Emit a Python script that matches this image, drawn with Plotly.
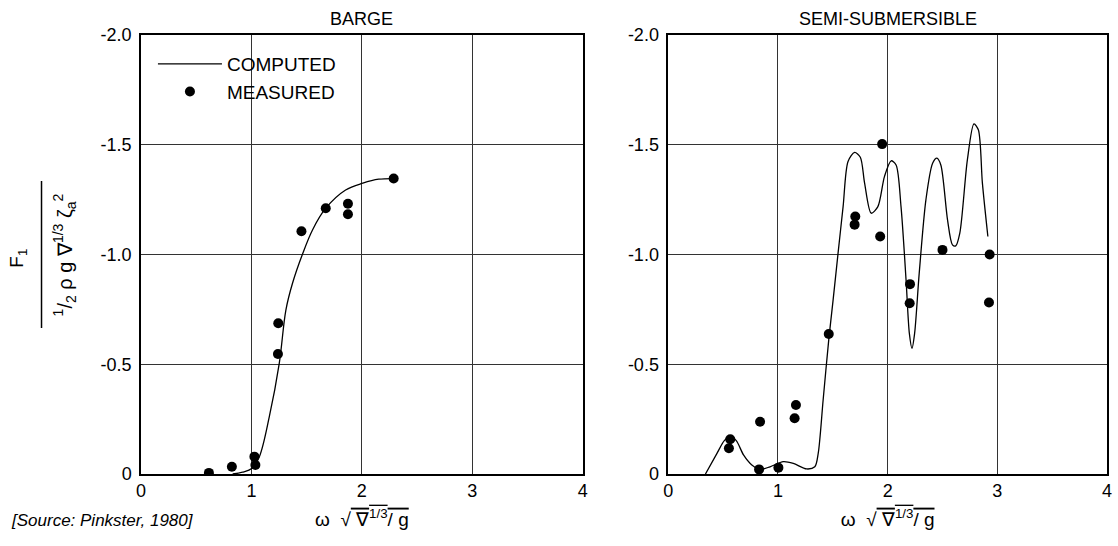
import plotly.graph_objects as go

# ---------------- data ----------------
barge_meas_x = [0.615, 0.823, 1.027, 1.036, 1.243, 1.240, 1.453, 1.673, 1.874, 1.874, 2.288]
barge_meas_y = [-0.005, -0.033, -0.079, -0.041, -0.687, -0.547, -1.106, -1.211, -1.231, -1.183, -1.346]

barge_comp_x = [0.83, 0.92, 1.006, 1.072, 1.162, 1.252, 1.312, 1.372, 1.462, 1.553, 1.673, 1.853, 2.009, 2.153, 2.288]
barge_comp_y = [0.0, -0.008, -0.026, -0.079, -0.261, -0.504, -0.747, -0.869, -1.001, -1.112, -1.211, -1.294, -1.325, -1.343, -1.346]

semi_meas_x = [0.565, 0.553, 0.837, 0.828, 1.004, 1.164, 1.152, 1.463, 1.705, 1.699, 1.950, 1.932, 2.204, 2.201, 2.500, 2.930, 2.924]
semi_meas_y = [-0.158, -0.117, -0.238, -0.021, -0.029, -0.314, -0.254, -0.638, -1.173, -1.136, -1.503, -1.082, -0.865, -0.778, -1.021, -1.000, -0.781]

semi_comp_x = [0.339, 0.444, 0.511, 0.565, 0.620, 0.686, 0.762, 0.837, 0.928, 1.049, 1.140, 1.261, 1.336, 1.367,
               1.412, 1.463, 1.503, 1.548, 1.594, 1.639, 1.699, 1.751, 1.790, 1.850, 1.911, 1.971, 2.032, 2.077,
               2.122, 2.168, 2.198, 2.222, 2.246, 2.288, 2.349, 2.410, 2.449, 2.485, 2.546, 2.591, 2.621, 2.658,
               2.727, 2.787, 2.827, 2.864, 2.914]
semi_comp_y = [0.0, -0.094, -0.152, -0.170, -0.152, -0.087, -0.041, -0.021, -0.033, -0.056, -0.048, -0.023, -0.033, -0.094,
               -0.337, -0.611, -0.793, -1.006, -1.218, -1.424, -1.465, -1.443, -1.325, -1.188, -1.218, -1.355, -1.427, -1.408,
               -1.218, -0.884, -0.641, -0.573, -0.641, -0.915, -1.249, -1.416, -1.439, -1.408, -1.158, -1.044, -1.039, -1.097,
               -1.431, -1.595, -1.568, -1.325, -1.082]

x_ticks = [0, 1, 2, 3, 4]
x_tick_text = ["0", "1", "2", "3", "4"]
y_ticks = [-2.0, -1.5, -1.0, -0.5, 0]
y_tick_text = ["-2.0", "-1.5", "-1.0", "-0.5", "0"]

panel_titles = ["BARGE", "SEMI-SUBMERSIBLE"]

# ---------------- figure ----------------
FONT = "Liberation Sans, Arial, sans-serif"
W, H = 1118, 546
ML, MR, MT, MB = 141, 6, 35, 72
PW = W - ML - MR
PH = H - MT - MB

def px_x(p):
    return (p - ML) / PW

def px_y(p):
    return (H - MB - p) / PH

fig = go.Figure()

fig.add_trace(go.Scatter(x=barge_comp_x, y=barge_comp_y, mode="lines", name="COMPUTED",
                         line=dict(color="black", width=1.3, shape="spline", smoothing=1.0),
                         xaxis="x", yaxis="y"))
fig.add_trace(go.Scatter(x=barge_meas_x, y=barge_meas_y, mode="markers", name="MEASURED",
                         marker=dict(color="black", size=10),
                         xaxis="x", yaxis="y"))
fig.add_trace(go.Scatter(x=semi_comp_x, y=semi_comp_y, mode="lines", showlegend=False,
                         line=dict(color="black", width=1.3, shape="spline", smoothing=0.8),
                         xaxis="x2", yaxis="y2"))
fig.add_trace(go.Scatter(x=semi_meas_x, y=semi_meas_y, mode="markers", showlegend=False,
                         marker=dict(color="black", size=10),
                         xaxis="x2", yaxis="y2"))

xtitle = "ω  √<span style=\"text-decoration:overline\"> ∇<sup>1/3</sup>/ g</span>"

common_x = dict(range=[0, 4], tickvals=x_ticks, ticktext=x_tick_text, showgrid=True,
                gridcolor="#333333", gridwidth=1, showline=True, linecolor="black", linewidth=1.5,
                mirror=True, ticks="", zeroline=False,
                tickfont=dict(family=FONT, size=18, color="black"))
common_y = dict(range=[0, -2.0], tickvals=y_ticks, ticktext=y_tick_text, showgrid=True,
                gridcolor="#333333", gridwidth=1, showline=True, linecolor="black", linewidth=1.5,
                mirror=True, ticks="", zeroline=False, ticklabelstandoff=4,
                tickfont=dict(family=FONT, size=18, color="black"))

d1 = [0, px_x(585)]
d2 = [px_x(671), 1.0]

fig.update_layout(
    width=W, height=H, autosize=False,
    margin=dict(l=ML, r=MR, t=MT, b=MB),
    paper_bgcolor="white", plot_bgcolor="white",
    font=dict(family=FONT, color="black"),
    xaxis=dict(domain=d1, anchor="y",
               title=dict(text=xtitle, font=dict(family=FONT, size=19), standoff=12), **common_x),
    yaxis=dict(domain=[0, 1], anchor="x", **common_y),
    xaxis2=dict(domain=d2, anchor="y2",
                title=dict(text=xtitle, font=dict(family=FONT, size=19), standoff=12), **common_x),
    yaxis2=dict(domain=[0, 1], anchor="x2", **common_y),
    legend=dict(x=px_x(153), y=px_y(45), xanchor="left", yanchor="top",
                bgcolor="rgba(255,255,255,0)", font=dict(family=FONT, size=19, color="black"),
                itemwidth=64, tracegroupgap=0),
    showlegend=True,
)

# panel titles
for i, t in enumerate(panel_titles):
    d = d1 if i == 0 else d2
    fig.add_annotation(text=t, x=(d[0] + d[1]) / 2, y=px_y(19), xref="paper", yref="paper",
                       showarrow=False, xanchor="center", yanchor="middle",
                       font=dict(family=FONT, size=18, color="black"))

# y-axis title as a fraction
fig.add_annotation(text="F<sub>1</sub>", x=px_x(17), y=px_y(258), xref="paper", yref="paper",
                   showarrow=False, textangle=-90, xanchor="center", yanchor="middle",
                   font=dict(family=FONT, size=19, color="black"))
fig.add_shape(type="line", xref="paper", yref="paper", x0=px_x(41), x1=px_x(41),
              y0=px_y(181), y1=px_y(328), line=dict(color="black", width=1.5))
fig.add_annotation(text="<sup>1</sup>/<sub>2</sub> ρ g ∇<sup>1/3</sup> ζ<sub>a</sub><sup>2</sup>",
                   x=px_x(65), y=px_y(255), xref="paper", yref="paper",
                   showarrow=False, textangle=-90, xanchor="center", yanchor="middle",
                   font=dict(family=FONT, size=20, color="black"))

# source
fig.add_annotation(text="<i>[Source: Pinkster, 1980]</i>", x=px_x(8), y=px_y(520),
                   xref="paper", yref="paper", showarrow=False, xanchor="left", yanchor="middle",
                   font=dict(family=FONT, size=17, color="black"))

fig.write_html("out.html", config={"displayModeBar": False},
               post_script="document.body.style.margin='0px';")
